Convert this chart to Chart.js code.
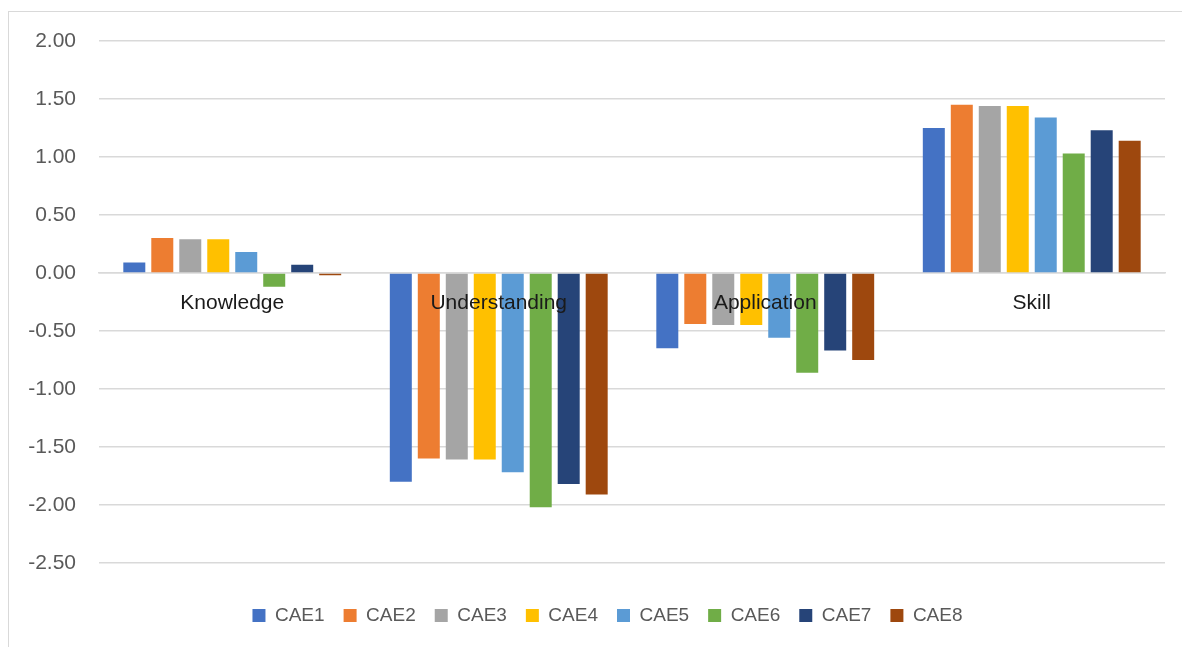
<!DOCTYPE html>
<html>
<head>
<meta charset="utf-8">
<script src="https://cdn.jsdelivr.net/npm/chart.js@4"></script>
<style>
  html, body { margin: 0; padding: 0; background: #fff; }
  #wrap { position: relative; width: 1182px; height: 647px; overflow: hidden; }
  #frame { position: absolute; left: 8px; top: 11px; width: 1200px; height: 700px;
           border-left: 1.5px solid #d9d9d9; border-top: 1.5px solid #d9d9d9; box-sizing: border-box; }
  canvas { position: absolute; left: 0; top: 0; }
</style>
</head>
<body>
<div id="wrap">
  <div id="frame"></div>
  <canvas id="c" width="1182" height="647"></canvas>
</div>
<script>
const categories = ["Knowledge", "Understanding", "Application", "Skill"];
const seriesNames = ["CAE1", "CAE2", "CAE3", "CAE4", "CAE5", "CAE6", "CAE7", "CAE8"];
const CAE1 = [0.09, -1.80, -0.65, 1.25];
const CAE2 = [0.30, -1.60, -0.44, 1.45];
const CAE3 = [0.29, -1.61, -0.45, 1.44];
const CAE4 = [0.29, -1.61, -0.45, 1.44];
const CAE5 = [0.18, -1.72, -0.56, 1.34];
const CAE6 = [-0.12, -2.02, -0.86, 1.03];
const CAE7 = [0.07, -1.82, -0.67, 1.23];
const CAE8 = [-0.02, -1.91, -0.75, 1.14];
const yMin = -2.5, yMax = 2.0, yStep = 0.5;

const seriesValues = [CAE1, CAE2, CAE3, CAE4, CAE5, CAE6, CAE7, CAE8];
const colors = ["#4472C4", "#ED7D31", "#A5A5A5", "#FFC000", "#5B9BD5", "#70AD47", "#264478", "#9E480E"];

const FONT = "'Liberation Sans', Arial, sans-serif";

// Centre the legend row the way the original does (slightly right of canvas centre)
const legendShift = {
  id: "legendShift",
  afterLayout(chart) {
    const L = chart.legend;
    if (L) { L.left = 50; L.right = chart.chartArea.right; }
  }
};

new Chart(document.getElementById("c"), {
  type: "bar",
  data: {
    labels: categories,
    datasets: seriesNames.map((n, i) => ({
      label: n,
      data: seriesValues[i],
      backgroundColor: colors[i],
      borderWidth: 0,
      barPercentage: 0.786,
      categoryPercentage: 0.84
    }))
  },
  plugins: [legendShift],
  options: {
    responsive: false,
    animation: false,
    devicePixelRatio: 1,
    layout: { padding: { left: 8, right: 17, top: 41, bottom: 12 } },
    plugins: {
      tooltip: { enabled: false },
      legend: {
        position: "bottom",
        title: { display: true, text: " ", font: { size: 1 }, padding: { top: 23, bottom: 0 } },
        labels: {
          boxWidth: 13, boxHeight: 13,
          padding: 19,
          color: "#595959",
          font: { family: FONT, size: 19 }
        }
      }
    },
    scales: {
      x: {
        position: { y: 0 },
        offset: true,
        grid: { display: false, drawTicks: false },
        border: { display: true, color: "#d9d9d9", width: 1.5 },
        ticks: { z: 1, color: "#1a1a1a", padding: 18, maxRotation: 0, font: { family: FONT, size: 21 } }
      },
      y: {
        min: yMin, max: yMax,
        afterFit: (s) => { s.width = 91; },
        grid: { color: "#d9d9d9", lineWidth: 1.5, drawTicks: false },
        border: { display: false },
        ticks: {
          stepSize: yStep,
          padding: 23,
          color: "#595959",
          font: { family: FONT, size: 21 },
          callback: (v) => Number(v).toFixed(2)
        }
      }
    }
  }
});
</script>
</body>
</html>
